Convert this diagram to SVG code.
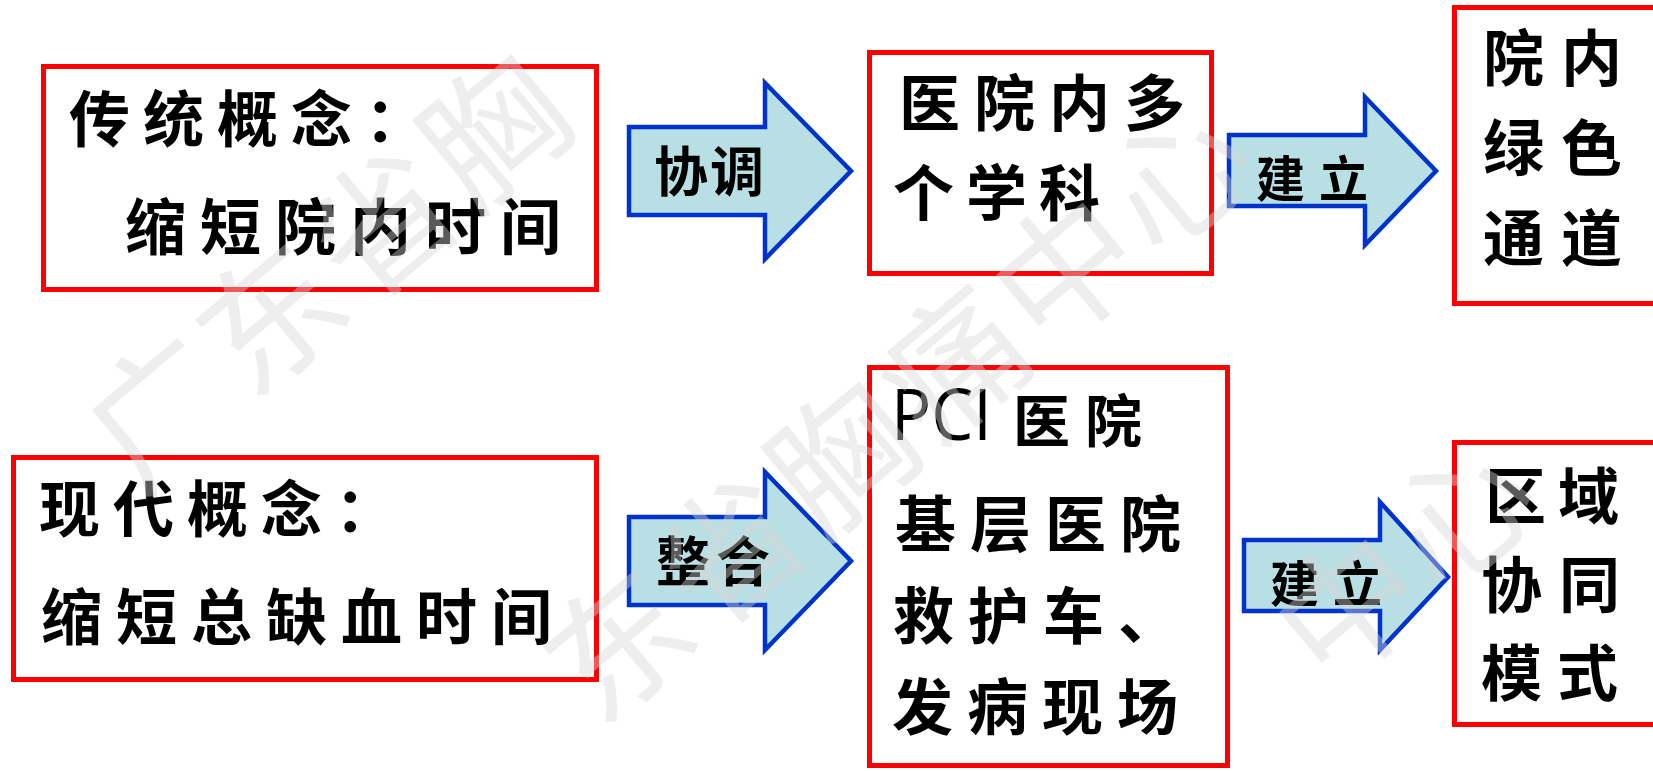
<svg xmlns="http://www.w3.org/2000/svg" width="1653" height="771" viewBox="0 0 1653 771">
<style>
.box{fill:#ffffff;stroke:#ff0000;stroke-width:5}
.arr{fill:#b8dfe3;stroke:#0033cc;stroke-width:4.5;stroke-linejoin:miter}
.t{font-family:"Noto Sans CJK SC","Noto Sans",sans-serif;font-weight:700;fill:#000000;font-size:61px;letter-spacing:14px}
.a{font-family:"Noto Sans CJK SC","Noto Sans",sans-serif;font-weight:700;fill:#000000;font-size:48px}
.wm{font-family:"Noto Sans CJK SC",sans-serif;font-size:140px;fill:#d6d6d6;fill-opacity:0.42;text-anchor:middle}
</style>
<rect width="1653" height="771" fill="#ffffff"/>

<g id="n-traditional">
<rect class="box" x="43.5" y="66.5" width="553" height="223"/>
<text class="t" x="69" y="142" style="letter-spacing:13px">传统概念：</text>
<text class="t" x="125" y="250">缩短院内时间</text>
</g>

<g id="n-modern">
<rect class="box" x="13.5" y="457.5" width="583" height="222"/>
<text class="t" x="39" y="532" style="letter-spacing:13px">现代概念：</text>
<text class="t" x="41" y="640">缩短总缺血时间</text>
</g>

<g id="n-multidisc">
<rect class="box" x="869.5" y="52.5" width="342" height="221"/>
<text class="t" x="899" y="126">医院内多</text>
<text class="t" x="893" y="216" style="letter-spacing:12px">个学科</text>
</g>

<g id="n-greenchannel">
<rect class="box" x="1454.5" y="7.5" width="260" height="296"/>
<text class="t" x="1483" y="81" style="letter-spacing:17px">院内</text>
<text class="t" x="1483" y="171" style="letter-spacing:17px">绿色</text>
<text class="t" x="1483" y="261" style="letter-spacing:17px">通道</text>
</g>

<g id="n-pci">
<rect class="box" x="869.5" y="367.5" width="358" height="398"/>
<text x="891" y="440" textLength="101" lengthAdjust="spacingAndGlyphs" style="font-family:'Open Sans','Liberation Sans',sans-serif;font-size:71px;fill:#000000">PCI</text>
<text class="t" x="1013" y="442" style="font-size:57px;letter-spacing:15px">医院</text>
<text class="t" x="895" y="547">基层医院</text>
<text class="t" x="893" y="639">救护车、</text>
<text class="t" x="892" y="730">发病现场</text>
</g>

<g id="n-regional">
<rect class="box" x="1454.5" y="442.5" width="260" height="282"/>
<text class="t" x="1485" y="519" style="letter-spacing:12px">区域</text>
<text class="t" x="1481" y="608" style="letter-spacing:17px">协同</text>
<text class="t" x="1481" y="696" style="letter-spacing:15px">模式</text>
</g>

<g id="connectors">
<g id="e-coordinate">
<path class="arr" d="M629,127 H765 V83 L851,171 L765,259 V215 H629 Z"/>
<text class="a" x="654" y="192" style="font-size:54px;letter-spacing:2px">协调</text>
</g>
<g id="e-build-top">
<path class="arr" d="M1229,135 H1365 V97 L1436,171 L1365,245 V206 H1229 Z"/>
<text class="a" x="1256" y="197" style="font-size:49px;letter-spacing:14px">建立</text>
</g>
<g id="e-integrate">
<path class="arr" d="M629,517 H765 V472 L851,561 L765,650 V605 H629 Z"/>
<text class="a" x="656" y="582" style="font-size:54px;letter-spacing:6px">整合</text>
</g>
<g id="e-build-bottom">
<path class="arr" d="M1244,540 H1380 V502 L1448,577 L1380,650 V611 H1244 Z"/>
<text class="a" x="1270" y="602" style="font-size:49px;letter-spacing:14px">建立</text>
</g>
</g>

<g id="watermark">
<text class="wm" x="158" y="464" transform="rotate(-40 158 411)">广</text>
<text class="wm" x="270" y="370" transform="rotate(-40 270 317)">东</text>
<text class="wm" x="382" y="276" transform="rotate(-40 382 223)">省</text>
<text class="wm" x="493" y="183" transform="rotate(-40 493 130)">胸</text>
<text class="wm" x="618" y="697" transform="rotate(-40 618 644)">东</text>
<text class="wm" x="730" y="603" transform="rotate(-40 730 550)">省</text>
<text class="wm" x="841" y="510" transform="rotate(-40 841 457)">胸</text>
<text class="wm" x="953" y="416" transform="rotate(-40 953 363)">痛</text>
<text class="wm" x="1065" y="322" transform="rotate(-40 1065 269)">中</text>
<text class="wm" x="1177" y="228" transform="rotate(-40 1177 175)">心</text>
<text class="wm" x="1348" y="659" transform="rotate(-40 1348 606)">中</text>
<text class="wm" x="1460" y="565" transform="rotate(-40 1460 512)">心</text>
</g>
</svg>
